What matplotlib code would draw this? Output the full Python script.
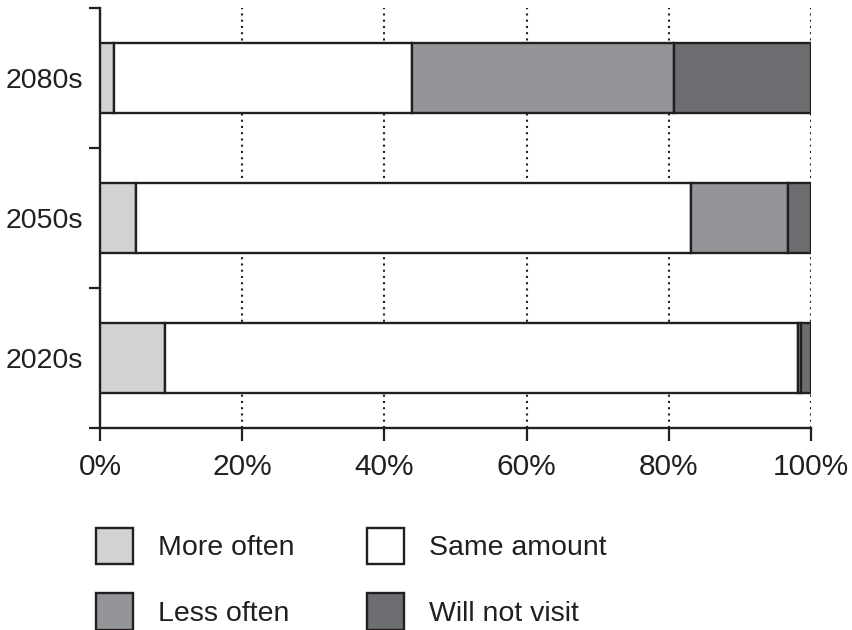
import matplotlib.pyplot as plt
from matplotlib.patches import Patch
from matplotlib.ticker import FixedLocator, PercentFormatter

plt.rcParams['font.family'] = ['Liberation Sans', 'DejaVu Sans']

# Data (percent of respondents)
periods = ['2020s', '2050s', '2080s']
categories = ['More often', 'Same amount', 'Less often', 'Will not visit']
more_often = [9.2, 5.0, 2.0]
same_amount = [89.0, 78.1, 41.9]
less_often = [0.4, 13.6, 36.8]
will_not = [1.4, 3.3, 19.3]

colors = ['#d1d2d4', '#ffffff', '#939598', '#6d6e71']
edge = '#231f20'

fig = plt.figure(figsize=(8.53, 6.30), dpi=100)
ax = fig.add_axes([100 / 853, (630 - 428) / 630, 711 / 853, 420 / 630])

series = [more_often, same_amount, less_often, will_not]
ypos = [i + 0.5 for i in range(len(periods))]
left = [0.0] * len(periods)
for vals, col in zip(series, colors):
    ax.barh(ypos, vals, left=left, height=0.5, color=col,
            edgecolor=edge, linewidth=1.7, zorder=3)
    left = [l + v for l, v in zip(left, vals)]

ax.set_xlim(0, 100)
ax.set_ylim(0, 3)

# x axis
ax.set_xticks([0, 20, 40, 60, 80, 100])
ax.xaxis.set_major_formatter(PercentFormatter(decimals=0))
ax.tick_params(axis='x', length=9, width=1.6, color=edge, labelsize=21.5,
               pad=9, labelcolor='#231f20')

# y axis: ticks at group boundaries, labels in between
ax.yaxis.set_major_locator(FixedLocator([0, 1, 2, 3]))
ax.yaxis.set_major_formatter(plt.NullFormatter())
ax.yaxis.set_minor_locator(FixedLocator(ypos))
ax.set_yticklabels(periods, minor=True)
ax.tick_params(axis='y', which='major', length=8, width=1.6, color=edge)
ax.tick_params(axis='y', which='minor', length=0, pad=12, labelsize=20.5,
               labelcolor='#231f20')

for s in ['top', 'right']:
    ax.spines[s].set_visible(False)
for s in ['left', 'bottom']:
    ax.spines[s].set_linewidth(1.7)
    ax.spines[s].set_color(edge)

ax.xaxis.grid(True, linestyle=(0, (1, 2)), color=edge, linewidth=1.5, zorder=0)
ax.set_axisbelow(True)

# Legend below the chart
handles = [Patch(facecolor=c, edgecolor=edge, linewidth=1.7, label=l)
           for c, l in zip(colors, categories)]
order = [0, 2, 1, 3]
fig.legend([handles[i] for i in order], [categories[i] for i in order],
           ncol=2, loc='upper left', bbox_to_anchor=(87 / 853, 1 - 519 / 630),
           frameon=False, fontsize=20.5, handlelength=1.3, handleheight=1.57,
           handletextpad=0.88, labelspacing=1.05, columnspacing=2.55,
           borderaxespad=0, borderpad=0.3, labelcolor='#231f20')

plt.savefig('out.png', dpi=100)
plt.close()
